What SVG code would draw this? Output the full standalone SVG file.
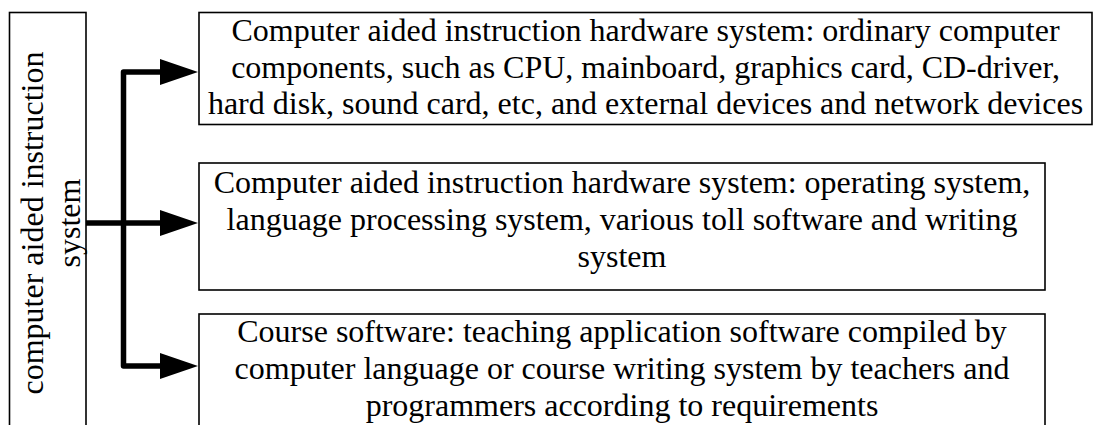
<svg xmlns="http://www.w3.org/2000/svg" width="1094" height="425" viewBox="0 0 1094 425">
<style>
.box{fill:#fff;stroke:#000;stroke-width:1.6}
.t{font-family:"Liberation Serif","Times New Roman",serif;font-size:32px;fill:#000;text-anchor:middle}
.c{fill:none;stroke:#000;stroke-width:5.5;stroke-linejoin:round}
</style>
<defs>
<marker id="ah" markerUnits="userSpaceOnUse" markerWidth="40" markerHeight="28" refX="2" refY="13" orient="auto" viewBox="0 0 40 28">
<path d="M0,0 L38,13 L0,26 z" fill="#000"/>
</marker>
</defs>
<rect width="1094" height="425" fill="#fff"/>
<g id="root">
<rect class="box" x="9.5" y="12.5" width="76.5" height="430"/>
<text class="t" transform="translate(43,223) rotate(-90)">computer aided instruction</text>
<text class="t" transform="translate(80,223) rotate(-90)">system</text>
</g>
<g id="hardware">
<rect class="box" x="199" y="12.5" width="893" height="112"/>
<text class="t" x="645.5" y="40.5">Computer aided instruction hardware system: ordinary computer</text>
<text class="t" x="645.5" y="77.5">components, such as CPU, mainboard, graphics card, CD-driver,</text>
<text class="t" x="645.5" y="114">hard disk, sound card, etc, and external devices and network devices</text>
</g>
<g id="software">
<rect class="box" x="199" y="163" width="846" height="127"/>
<text class="t" x="622" y="192.5">Computer aided instruction hardware system: operating system,</text>
<text class="t" x="622" y="229.5">language processing system, various toll software and writing</text>
<text class="t" x="622" y="266.5">system</text>
</g>
<g id="course">
<rect class="box" x="199" y="314" width="846" height="130"/>
<text class="t" x="622" y="342">Course software: teaching application software compiled by</text>
<text class="t" x="622" y="379">computer language or course writing system by teachers and</text>
<text class="t" x="622" y="416">programmers according to requirements</text>
</g>
<g id="connectors">
<path class="c" d="M123.5,223 V72 H162" marker-end="url(#ah)"/>
<path class="c" d="M86,223 H162" marker-end="url(#ah)"/>
<path class="c" d="M123.5,223 V366 H162" marker-end="url(#ah)"/>
</g>
</svg>
